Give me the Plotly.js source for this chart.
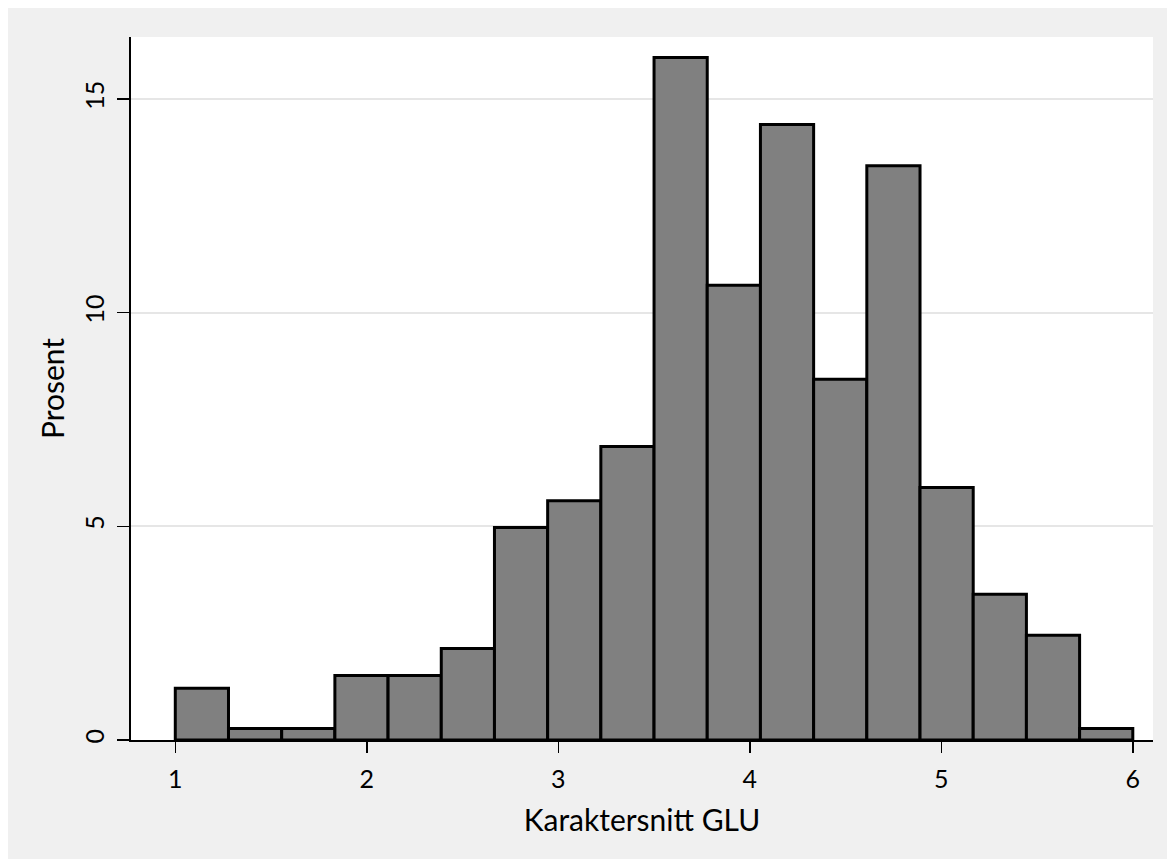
<!DOCTYPE html>
<html>
<head>
<meta charset="utf-8">
<script src="https://cdn.plot.ly/plotly-3.0.1.min.js"></script>
<style>
  html, body { margin: 0; padding: 0; background: #ffffff; }
  #chart { position: absolute; left: 8px; top: 8px; width: 1159px; height: 851px; }
</style>
</head>
<body>
<div id="chart"></div>
<script>
// Histogram of "Karaktersnitt GLU": 18 equal-width bins from 1 to 6
const binMin = 1;
const binMax = 6;
const percent = [1.21, 0.27, 0.27, 1.51, 1.51, 2.14, 4.97, 5.60, 6.87, 15.97,
                 10.64, 14.40, 8.44, 13.44, 5.91, 3.41, 2.45, 0.27];
const xTickVals = [1, 2, 3, 4, 5, 6];
const xTickText = ['1', '2', '3', '4', '5', '6'];
const yTickVals = [0, 5, 10, 15];
const yTickText = ['0', '5', '10', '15'];

const binWidth = (binMax - binMin) / percent.length;
const centers = percent.map((_, i) => binMin + binWidth * (i + 0.5));

const FONT = 'Lato, "Open Sans", "DejaVu Sans", sans-serif';

const trace = {
  type: 'bar',
  x: centers,
  y: percent,
  width: binWidth,
  marker: { color: '#808080', line: { color: '#000000', width: 3 } },
  hoverinfo: 'x+y'
};

const layout = {
  width: 1159,
  height: 851,
  margin: { l: 123, r: 14, t: 29, b: 119, pad: 0 },
  paper_bgcolor: '#f0f0f0',
  plot_bgcolor: '#ffffff',
  showlegend: false,
  bargap: 0,
  font: { family: FONT, size: 25, color: '#000000' },
  xaxis: {
    range: [0.7687, 6.1055],
    tickmode: 'array',
    tickvals: xTickVals,
    ticktext: xTickText,
    ticks: 'outside',
    ticklen: 11,
    tickwidth: 1.5,
    tickcolor: '#000000',
    ticklabelstandoff: 5,
    showline: true,
    linecolor: '#000000',
    linewidth: 1.5,
    showgrid: false,
    zeroline: false,
    tickfont: { family: FONT, size: 25, color: '#000000' },
    title: { text: 'Karaktersnitt GLU', font: { family: FONT, size: 30, color: '#000000' }, standoff: 18 },
    automargin: false,
    fixedrange: true
  },
  yaxis: {
    range: [0, 16.45],
    tickmode: 'array',
    tickvals: yTickVals,
    ticktext: yTickText,
    tickangle: -90,
    ticks: 'outside',
    ticklen: 12,
    tickwidth: 1.5,
    tickcolor: '#000000',
    ticklabelstandoff: 3,
    showline: true,
    linecolor: '#000000',
    linewidth: 2,
    showgrid: true,
    gridcolor: '#e6e6e6',
    gridwidth: 2,
    zeroline: false,
    tickfont: { family: FONT, size: 25, color: '#000000' },
    title: { text: 'Prosent', font: { family: FONT, size: 30, color: '#000000' }, standoff: 6 },
    automargin: false,
    fixedrange: true
  }
};

Plotly.newPlot('chart', [trace], layout, { displayModeBar: false, staticPlot: true });
</script>
</body>
</html>
